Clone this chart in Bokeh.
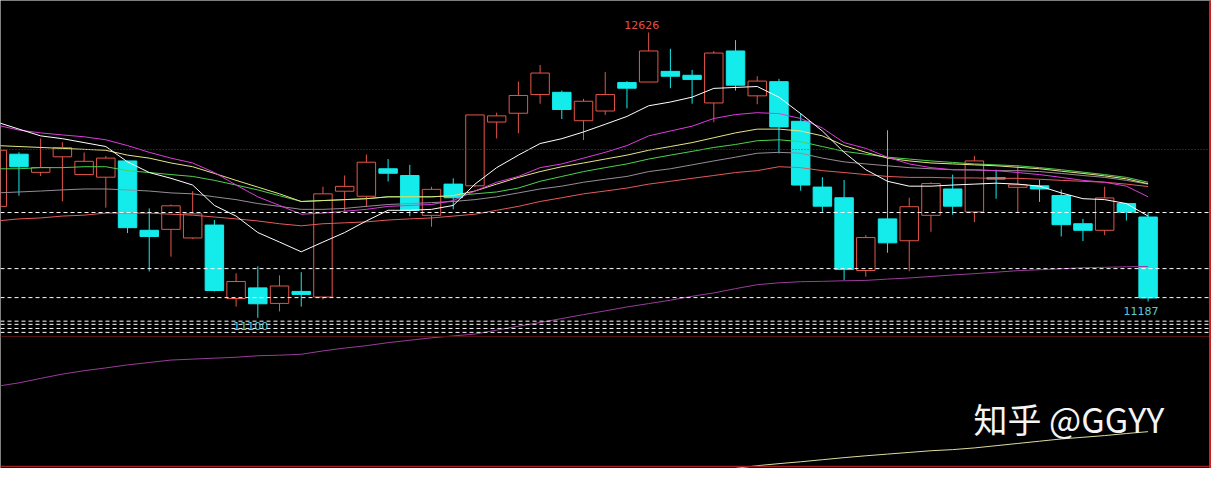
import math
import numpy as np
from bokeh.plotting import figure
from bokeh.models import ColumnDataSource, Span, Label, Range1d
from bokeh.embed import file_html
from bokeh.resources import INLINE

# ---------------- data (prices) ----------------
opens = [11696, 11975, 11878, 11961, 11866, 11852, 11939, 11568, 11573, 11527,
         11596, 11203, 11260, 11177, 11241, 11211, 11777, 11750, 11897, 11861,
         11648, 11815, 11806, 12147, 12194, 12294, 12306, 12154, 12206, 12358,
         12361, 12418, 12397, 12249, 12527, 12287, 12363, 12151, 11799, 11742,
         11353, 11629, 11512, 11648, 11789, 11666, 11849, 11798, 11806, 11754,
         11603, 11568, 11711, 11639]
highs = [12021, 11985, 12059, 12039, 11984, 11965, 11940, 11685, 11706, 11777,
         11623, 11338, 11375, 11327, 11344, 11801, 11861, 11973, 11949, 11918,
         11801, 11846, 12185, 12197, 12363, 12452, 12315, 12271, 12414, 12366,
         12626, 12539, 12426, 12527, 12585, 12392, 12378, 12194, 11852, 11837,
         11542, 12103, 11742, 11825, 11866, 11966, 11892, 11914, 11839, 11785,
         11629, 11801, 11715, 11665]
lows = [11680, 11753, 11858, 11723, 11866, 11689, 11553, 11348, 11427, 11522,
        11241, 11160, 11100, 11134, 11160, 11198, 11670, 11693, 11829, 11643,
        11587, 11680, 11799, 12059, 12087, 12245, 12163, 12051, 12185, 12220,
        12361, 12328, 12245, 12146, 12315, 12242, 11979, 11780, 11663, 11301,
        11320, 11448, 11349, 11560, 11651, 11612, 11737, 11665, 11720, 11535,
        11510, 11542, 11620, 11187]
closes = [11996, 11908, 11904, 12010, 11937, 11954, 11582, 11535, 11699, 11656,
          11246, 11294, 11175, 11270, 11225, 11763, 11803, 11932, 11873, 11674,
          11787, 11742, 12185, 12180, 12289, 12409, 12214, 12258, 12294, 12328,
          12527, 12392, 12375, 12516, 12344, 12366, 12121, 11810, 11697, 11358,
          11529, 11501, 11694, 11818, 11697, 11939, 11842, 11811, 11789, 11598,
          11568, 11741, 11665, 11206]

ma5 = [12146, 12109, 12073, 12058, 12037, 12016, 11934, 11877, 11846, 11810,
       11701, 11644, 11556, 11505, 11453, 11505, 11556, 11618, 11675, 11675,
       11680, 11701, 11815, 11903, 11970, 12032, 12058, 12094, 12135, 12177,
       12234, 12254, 12280, 12327, 12332, 12337, 12280, 12192, 12099, 11985,
       11892, 11830, 11804, 11804, 11810, 11815, 11820, 11815, 11804, 11768,
       11737, 11732, 11711, 11644]
ma10 = [12130, 12104, 12089, 12078, 12068, 12052, 12021, 11985, 11954, 11928,
        11877, 11810, 11747, 11701, 11654, 11660, 11670, 11680, 11696, 11701,
        11706, 11727, 11778, 11825, 11856, 11903, 11923, 11954, 11985, 12021,
        12073, 12099, 12125, 12166, 12187, 12197, 12192, 12166, 12115, 12037,
        12006, 11959, 11923, 11903, 11892, 11892, 11887, 11877, 11866, 11851,
        11835, 11825, 11804, 11747]
ma20 = [12021, 12016, 12011, 12006, 12001, 11996, 11970, 11954, 11928, 11908,
        11872, 11835, 11799, 11763, 11722, 11727, 11732, 11737, 11747, 11747,
        11747, 11753, 11778, 11815, 11851, 11882, 11908, 11928, 11949, 11970,
        11996, 12016, 12037, 12063, 12089, 12109, 12109, 12099, 12073, 12021,
        11985, 11954, 11939, 11928, 11923, 11918, 11913, 11905, 11897, 11884,
        11872, 11859, 11843, 11817]
ma30 = [11897, 11897, 11903, 11903, 11908, 11908, 11887, 11877, 11866, 11856,
        11835, 11810, 11784, 11753, 11722, 11727, 11732, 11737, 11747, 11747,
        11747, 11753, 11763, 11773, 11794, 11830, 11856, 11882, 11903, 11923,
        11949, 11970, 11990, 12011, 12027, 12047, 12052, 12042, 12016, 11990,
        11975, 11959, 11949, 11939, 11931, 11923, 11918, 11913, 11903, 11892,
        11879, 11866, 11851, 11825]
ma60 = [11768, 11773, 11778, 11784, 11789, 11789, 11784, 11778, 11768, 11763,
        11747, 11732, 11711, 11696, 11680, 11680, 11685, 11696, 11706, 11711,
        11716, 11722, 11732, 11747, 11768, 11789, 11804, 11825, 11841, 11856,
        11882, 11897, 11918, 11939, 11959, 11980, 11985, 11980, 11954, 11934,
        11923, 11913, 11903, 11897, 11892, 11890, 11887, 11887, 11882, 11872,
        11861, 11851, 11835, 11815]
ma120 = [11618, 11629, 11634, 11644, 11649, 11660, 11660, 11660, 11654, 11649,
         11639, 11629, 11618, 11603, 11592, 11603, 11608, 11613, 11623, 11629,
         11634, 11644, 11654, 11675, 11696, 11722, 11742, 11763, 11778, 11794,
         11815, 11830, 11846, 11861, 11877, 11887, 11908, 11903, 11887, 11877,
         11866, 11856, 11851, 11851, 11848, 11848, 11846, 11846, 11841, 11835,
         11830, 11825, 11815, 11802]
ma250 = [10734, 10752, 10776, 10799, 10817, 10832, 10848, 10861, 10874, 10879,
         10884, 10889, 10897, 10900, 10905, 10923, 10938, 10951, 10967, 10980,
         10993, 11003, 11013, 11034, 11055, 11075, 11096, 11117, 11137, 11158,
         11176, 11194, 11215, 11233, 11256, 11277, 11287, 11293, 11295, 11298,
         11300, 11307, 11313, 11321, 11329, 11336, 11344, 11352, 11357, 11362,
         11368, 11370, 11373, 11375]
nan = float("nan")
ma_long = [nan] * 34 + [10295, 10309, 10320, 10330, 10341, 10352, 10362, 10371,
                        10380, 10389, 10395, 10404, 10416, 10428, 10440, 10452,
                        10461, 10470, 10481, 10491]

dash_levels = [11663, 11363, 11208, 11082, 11065, 11043, 11022]
dotted_level = 12000
panel_split = 11000
frame_bottom = 10305
frame_right = 55.85

# ---------------- styles ----------------
UP = "#e4564a"
DOWN = "#14ecec"
BG = "#000000"

n = len(opens)
xs = list(range(n))

p = figure(width=1211, height=468,
           x_range=Range1d(0.15, 55.92), y_range=Range1d(10294, 12797),
           output_backend="svg", toolbar_location=None,
           x_axis_location=None, y_axis_location=None,
           min_border=0, background_fill_color=BG, border_fill_color=BG,
           outline_line_color=None)
p.grid.visible = False

# reference lines
p.add_layout(Span(location=dotted_level, dimension="width",
                  line_color="#9a2a2a", line_dash="1 2", line_width=1))
for lv in dash_levels:
    p.add_layout(Span(location=lv, dimension="width", line_color="#ffffff",
                      line_dash="4 3", line_width=1))
p.add_layout(Span(location=panel_split, dimension="width",
                  line_color="#561414", line_width=1))
p.add_layout(Span(location=frame_bottom, dimension="width",
                  line_color="#a02020", line_width=1.5))
p.add_layout(Span(location=frame_right, dimension="height",
                  line_color="#d02020", line_width=2))

# candles
up_idx = [i for i in range(n) if closes[i] > opens[i]]
dn_idx = [i for i in range(n) if closes[i] <= opens[i]]

wick = ColumnDataSource(dict(
    x=xs + xs,
    y0=[max(opens[i], closes[i]) for i in range(n)] + [min(opens[i], closes[i]) for i in range(n)],
    y1=highs + lows,
    c=[UP if closes[i] > opens[i] else DOWN for i in range(n)] * 2,
))
p.segment(x0="x", y0="y0", x1="x", y1="y1", color="c", line_width=1, source=wick)

src_up = ColumnDataSource(dict(x=up_idx, top=[closes[i] for i in up_idx],
                               bottom=[opens[i] for i in up_idx]))
src_dn = ColumnDataSource(dict(x=dn_idx, top=[opens[i] for i in dn_idx],
                               bottom=[closes[i] for i in dn_idx]))
p.vbar(x="x", width=0.85, top="top", bottom="bottom", source=src_up,
       fill_color=None, line_color=UP, line_width=1)
p.vbar(x="x", width=0.85, top="top", bottom="bottom", source=src_dn,
       fill_color=DOWN, line_color=DOWN, line_width=1)

# moving averages
p.line(xs, ma250, line_color="#9a3c9a", line_width=1)
p.line(xs, ma_long, line_color="#dcdca0", line_width=1)
p.line(xs, ma120, line_color="#e65a5a", line_width=1)
p.line(xs, ma60, line_color="#968c96", line_width=1)
p.line(xs, ma30, line_color="#4cd24c", line_width=1)
p.line(xs, ma20, line_color="#e6e682", line_width=1)
p.line(xs, ma10, line_color="#dc3cdc", line_width=1)
p.line(xs, ma5, line_color="#ffffff", line_width=1)

# value labels
imax = int(np.argmax(highs))
imin = int(np.argmin(lows))
ilast = n - 1
p.add_layout(Label(x=imax, y=highs[imax], text=str(highs[imax]), x_offset=-7, y_offset=3,
                   text_align="center", text_baseline="bottom",
                   text_color="#e0504a", text_font="DejaVu Sans", text_font_size="11px"))
p.add_layout(Label(x=imin, y=lows[imin], text=str(lows[imin]), x_offset=-7, y_offset=-4,
                   text_align="center", text_baseline="top",
                   text_color="#5ccad6", text_font="DejaVu Sans", text_font_size="11px"))
p.add_layout(Label(x=ilast, y=lows[ilast], text=str(lows[ilast]), x_offset=-7, y_offset=-5,
                   text_align="center", text_baseline="top",
                   text_color="#5ccad6", text_font="DejaVu Sans", text_font_size="11px"))

# watermark
p.add_layout(Label(x=973, y=50, x_units="screen", y_units="screen",
                   text="知乎 @GGYY", text_align="left", text_baseline="middle",
                   text_color="#f4f4f4", text_font="Noto Sans CJK SC",
                   text_font_size="34px"))

open("out.html", "w").write(file_html(p, INLINE))
